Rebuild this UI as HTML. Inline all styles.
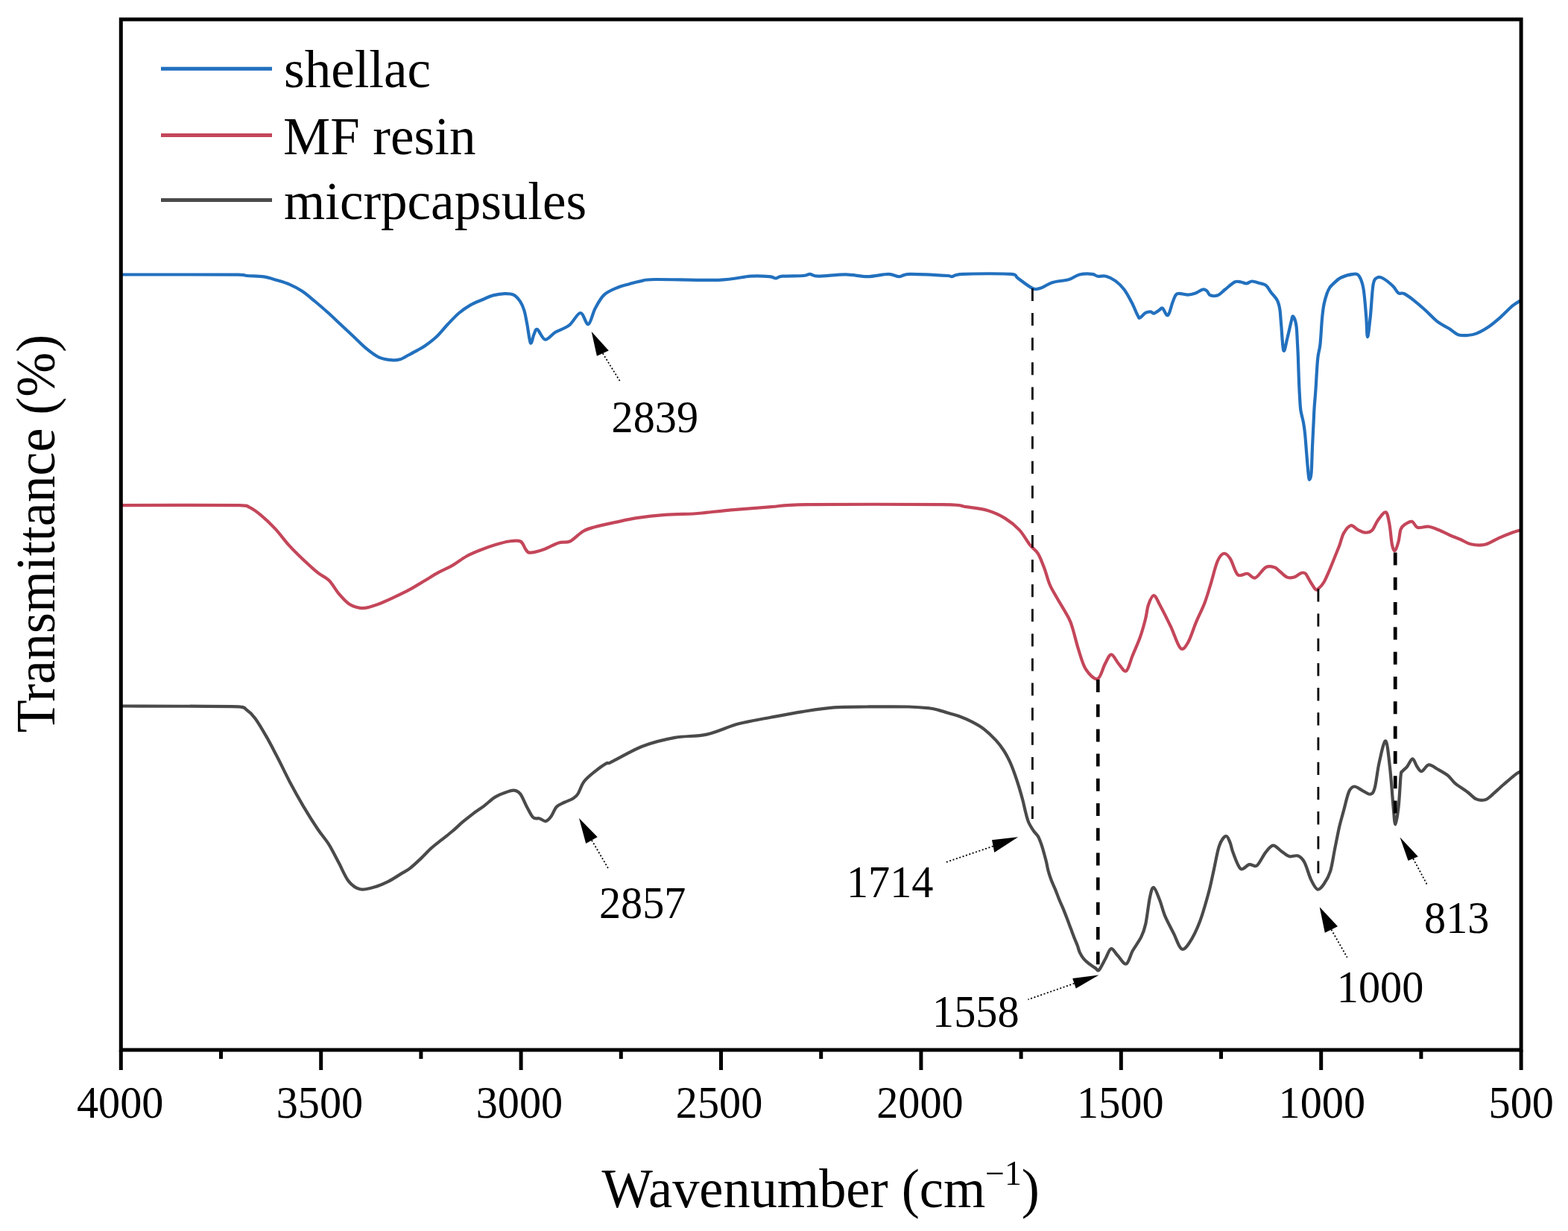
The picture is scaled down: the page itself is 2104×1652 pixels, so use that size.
<!DOCTYPE html>
<html><head><meta charset="utf-8"><title>FTIR spectra</title>
<style>
html,body{margin:0;padding:0;background:#fff;}
svg{display:block;filter:blur(0.5px);}
text{font-family:"Liberation Serif","Times New Roman",serif;fill:#000;}
</style></head>
<body>
<svg width="2104" height="1652" viewBox="0 0 2104 1652">
<rect x="0" y="0" width="2104" height="1652" fill="#fff"/>
<g fill="none" stroke-linejoin="round" stroke-linecap="round" stroke-width="4.2">
<path d="M162.0,368.5 C188.3,368.5 291.8,368.4 320.0,368.6 C331.4,368.9 325.7,369.5 331.4,370.0 C337.1,370.5 347.5,370.4 354.2,371.4 C360.9,372.4 365.6,374.3 371.3,376.0 C377.0,377.7 382.7,379.2 388.4,381.7 C394.1,384.2 399.8,387.0 405.5,390.8 C411.2,394.6 417.0,399.8 422.7,404.5 C428.4,409.2 434.1,414.2 439.8,419.3 C445.5,424.4 451.2,430.0 456.9,435.3 C462.6,440.6 468.3,446.0 474.0,451.3 C479.7,456.6 485.4,462.7 491.1,467.4 C496.8,472.1 502.5,476.7 508.2,479.3 C513.9,481.9 520.5,482.7 525.3,483.2 C530.0,483.7 532.9,483.4 536.7,482.3 C540.5,481.2 544.3,478.5 548.1,476.5 C551.9,474.5 555.8,472.5 559.5,470.4 C563.2,468.3 566.0,467.1 570.4,464.0 C574.8,460.9 580.5,456.8 585.6,452.0 C590.7,447.2 595.7,440.5 600.8,435.2 C605.9,429.9 610.9,424.3 616.0,420.0 C621.1,415.7 626.2,412.2 631.3,409.3 C636.4,406.4 641.4,404.6 646.5,402.5 C651.6,400.4 656.6,397.8 661.7,396.4 C666.8,395.0 672.4,394.2 676.9,394.1 C681.4,394.0 685.5,393.8 689.0,395.6 C692.5,397.4 695.8,401.2 698.2,404.8 C700.6,408.4 702.0,411.9 703.5,417.0 C705.0,422.1 705.9,428.0 707.3,435.2 C708.7,442.4 710.4,458.0 711.9,460.3 C713.4,462.6 714.9,451.9 716.4,448.9 C717.9,445.8 718.5,440.9 721.0,442.0 C723.5,443.1 727.6,455.1 731.6,455.7 C735.6,456.3 740.0,449.0 745.3,445.8 C750.6,442.6 758.0,441.0 763.6,436.7 C769.2,432.4 774.5,420.2 778.8,420.0 C783.1,419.8 786.1,436.2 789.4,435.2 C792.7,434.2 795.0,420.5 798.6,413.9 C802.2,407.3 805.6,400.3 810.7,395.6 C815.8,390.9 823.4,388.1 829.0,385.7 C834.6,383.3 839.1,382.6 844.2,381.2 C849.3,379.8 853.7,378.4 859.4,377.4 C865.1,376.4 861.1,375.3 878.5,375.0 C895.9,374.7 942.6,376.5 964.0,375.8 C985.4,375.1 995.4,371.5 1006.8,370.7 C1018.2,369.9 1026.8,370.7 1032.5,371.2 C1038.2,371.7 1038.2,373.6 1041.0,373.5 C1043.8,373.4 1043.4,371.3 1049.6,370.7 C1055.8,370.1 1071.8,370.5 1078.0,370.0 C1084.2,369.5 1083.4,367.7 1086.7,367.8 C1090.0,367.9 1090.0,370.6 1098.0,370.7 C1106.0,370.8 1124.0,368.3 1135.0,368.4 C1146.0,368.5 1154.2,371.3 1163.7,371.2 C1173.2,371.1 1184.9,367.8 1192.0,367.8 C1199.1,367.8 1201.6,371.2 1206.4,371.2 C1211.2,371.2 1209.8,368.0 1220.7,367.8 C1231.6,367.6 1262.5,369.4 1272.0,370.0 C1277.7,370.6 1274.4,371.6 1277.7,371.2 C1281.0,370.8 1278.7,368.4 1292.0,367.8 C1305.3,367.2 1345.3,366.9 1357.6,367.8 C1366.0,368.8 1361.3,370.3 1366.0,373.5 C1370.7,376.7 1380.8,385.1 1386.0,387.2 C1391.2,389.3 1393.2,387.6 1397.5,386.3 C1401.8,385.0 1405.5,381.1 1411.7,379.2 C1417.9,377.3 1428.4,376.8 1434.5,375.0 C1440.6,373.2 1443.3,369.7 1448.5,368.5 C1453.7,367.3 1461.5,367.4 1465.6,367.8 C1469.6,368.2 1469.7,370.2 1472.8,370.7 C1475.9,371.2 1480.2,369.6 1484.2,370.7 C1488.2,371.8 1493.0,374.1 1497.0,377.1 C1501.0,380.1 1504.8,383.8 1508.4,388.5 C1512.0,393.2 1515.3,399.7 1518.4,405.6 C1521.5,411.5 1525.1,420.7 1527.0,424.1 C1528.9,427.6 1528.1,427.0 1529.8,426.3 C1531.5,425.6 1534.6,421.2 1537.0,419.9 C1539.4,418.6 1542.1,418.3 1544.0,418.4 C1545.9,418.5 1546.5,421.0 1548.4,420.6 C1550.3,420.2 1553.6,417.5 1555.5,416.3 C1557.4,415.1 1558.1,412.4 1559.8,413.5 C1561.5,414.6 1564.0,421.6 1565.5,422.7 C1567.0,423.8 1567.6,423.0 1569.0,419.9 C1570.4,416.8 1572.2,408.5 1574.0,404.2 C1575.8,399.9 1576.4,395.6 1579.7,394.2 C1583.0,392.8 1590.0,395.7 1594.0,395.6 C1598.0,395.5 1600.7,394.7 1604.0,393.5 C1607.3,392.3 1611.4,389.0 1614.0,388.5 C1616.6,388.0 1617.9,389.3 1619.6,390.6 C1621.3,391.9 1621.6,395.4 1624.0,396.3 C1626.4,397.2 1630.7,397.6 1634.0,396.3 C1637.3,395.0 1640.1,391.5 1643.9,388.5 C1647.7,385.5 1653.1,380.2 1656.7,378.5 C1660.3,376.8 1662.7,378.2 1665.3,378.5 C1667.9,378.8 1670.0,380.7 1672.4,380.5 C1674.9,380.3 1677.1,377.6 1680.0,377.5 C1682.9,377.4 1686.9,379.1 1690.0,380.0 C1693.1,380.9 1696.0,380.9 1698.6,382.9 C1701.2,384.9 1702.9,388.8 1705.4,392.2 C1708.0,395.6 1711.9,399.4 1713.9,403.2 C1715.9,407.0 1716.4,409.5 1717.3,415.0 C1718.2,420.5 1718.3,427.1 1719.2,436.3 C1720.1,445.6 1721.0,467.7 1722.4,470.5 C1723.8,473.3 1725.8,459.6 1727.5,453.2 C1729.2,446.8 1731.2,436.8 1732.5,432.0 C1733.8,427.2 1734.0,423.7 1735.1,424.4 C1736.2,425.1 1738.3,430.1 1739.3,436.3 C1740.3,442.5 1740.6,454.4 1741.0,461.7 C1741.4,469.0 1741.6,471.5 1741.9,480.0 C1742.2,488.5 1742.6,503.6 1743.0,512.7 C1743.4,521.8 1743.7,528.1 1744.1,534.5 C1744.5,540.9 1744.6,545.4 1745.4,550.9 C1746.2,556.4 1748.0,561.8 1749.0,567.2 C1750.0,572.7 1750.5,576.3 1751.2,583.6 C1751.9,590.9 1752.7,602.2 1753.4,610.9 C1754.1,619.6 1755.0,630.6 1755.6,636.0 C1756.2,641.4 1756.5,643.8 1757.2,643.5 C1757.9,643.2 1759.0,641.2 1759.6,634.0 C1760.2,626.8 1760.5,611.1 1761.0,600.0 C1761.5,588.9 1762.1,576.3 1762.6,567.2 C1763.0,558.1 1763.2,552.7 1763.7,545.4 C1764.2,538.1 1764.9,531.7 1765.4,523.6 C1766.0,515.5 1766.5,504.6 1767.0,497.0 C1767.5,489.4 1767.8,483.9 1768.6,478.0 C1769.3,472.1 1770.6,470.1 1771.5,461.7 C1772.4,453.3 1773.2,436.8 1774.0,427.8 C1774.8,418.9 1775.5,413.6 1776.6,408.0 C1777.7,402.4 1779.3,397.6 1780.5,394.0 C1781.7,390.4 1782.7,388.6 1784.0,386.5 C1785.3,384.4 1785.6,383.9 1788.2,381.6 C1790.8,379.3 1794.7,374.8 1799.4,372.5 C1804.1,370.2 1812.2,368.1 1816.3,367.8 C1820.4,367.5 1821.6,367.3 1823.8,370.6 C1826.0,373.9 1827.9,378.4 1829.5,387.5 C1831.1,396.6 1832.3,414.2 1833.2,425.0 C1834.1,435.8 1834.1,452.2 1835.0,452.2 C1835.9,452.2 1837.5,436.7 1838.8,425.0 C1840.1,413.3 1841.0,390.6 1842.6,381.9 C1844.2,373.1 1846.0,373.9 1848.2,372.5 C1850.4,371.1 1852.2,371.6 1855.7,373.5 C1859.2,375.4 1865.5,380.5 1868.9,383.8 C1872.4,387.1 1873.9,391.5 1876.4,393.2 C1878.9,394.9 1880.6,392.5 1883.9,394.0 C1887.2,395.5 1891.5,398.6 1896.2,402.3 C1900.9,406.0 1906.9,411.1 1912.3,416.0 C1917.7,420.9 1923.1,427.2 1928.5,431.4 C1933.9,435.6 1939.9,438.1 1944.6,441.1 C1949.3,444.1 1952.8,447.7 1956.8,449.2 C1960.8,450.7 1964.9,450.3 1968.9,450.0 C1972.9,449.7 1976.3,449.5 1981.0,447.6 C1985.7,445.7 1991.8,442.3 1997.2,438.7 C2002.6,435.1 2007.9,430.5 2013.3,425.8 C2018.7,421.1 2024.9,414.2 2029.5,410.4 C2034.1,406.6 2039.1,404.2 2041.0,403.0" stroke="#2270be"/>
<path d="M162.0,678.1 C188.6,678.1 292.8,677.6 321.6,678.1 C334.9,678.6 330.1,678.7 334.9,680.9 C339.6,683.1 344.4,686.6 350.1,691.4 C355.8,696.1 362.8,702.6 369.1,709.4 C375.4,716.2 381.8,725.2 388.1,732.2 C394.4,739.2 400.8,745.3 407.1,751.3 C413.5,757.3 420.5,763.8 426.2,768.4 C431.9,773.0 436.6,774.0 441.4,778.8 C446.1,783.5 450.3,791.7 454.7,796.9 C459.1,802.1 463.2,807.0 468.0,810.2 C472.8,813.4 478.8,815.1 483.2,815.9 C487.6,816.7 489.9,816.1 494.6,815.0 C499.4,813.9 505.7,811.6 511.7,809.2 C517.7,806.8 524.4,803.7 530.7,800.7 C537.0,797.7 543.3,794.7 549.7,791.2 C556.1,787.7 562.6,783.6 569.0,779.8 C575.4,776.0 581.7,771.9 588.0,768.4 C594.3,764.9 600.7,762.5 607.0,758.9 C613.3,755.2 619.7,750.0 626.0,746.5 C632.3,743.0 638.7,740.5 645.0,738.0 C651.3,735.5 657.7,733.2 664.0,731.3 C670.3,729.4 677.3,727.3 683.0,726.5 C688.7,725.7 694.5,724.6 698.3,726.5 C702.1,728.4 703.7,735.5 705.9,738.0 C708.1,740.5 707.5,741.9 711.6,741.7 C715.7,741.5 724.3,739.2 730.6,737.0 C736.9,734.8 743.9,730.1 749.6,728.4 C755.3,726.6 759.4,729.0 764.8,726.5 C770.2,724.0 776.6,716.4 782.0,713.2 C787.4,710.0 789.7,709.5 797.0,707.5 C804.3,705.5 816.2,702.9 825.7,700.9 C835.2,698.9 843.1,696.9 854.2,695.2 C865.3,693.5 879.5,691.8 892.2,690.8 C904.9,689.8 920.7,690.0 930.2,689.5 C939.7,689.0 939.7,688.6 949.2,687.6 C958.8,686.6 973.2,685.0 987.5,683.8 C1001.8,682.6 1019.1,681.3 1035.0,680.2 C1050.8,679.1 1044.2,677.6 1082.6,677.1 C1121.0,676.6 1229.9,676.6 1265.6,677.1 C1296.5,677.6 1286.6,678.9 1296.5,680.2 C1306.4,681.5 1316.3,682.4 1325.0,685.0 C1333.7,687.6 1341.6,691.2 1348.7,695.6 C1355.8,700.0 1362.2,705.2 1367.8,711.1 C1373.3,717.0 1377.8,726.0 1382.0,731.3 C1386.2,736.6 1389.6,737.5 1392.8,742.8 C1396.0,748.0 1398.8,755.9 1401.4,762.8 C1404.0,769.7 1405.7,777.6 1408.5,784.2 C1411.3,790.9 1414.2,795.1 1418.5,802.7 C1422.8,810.3 1430.6,822.7 1434.2,829.8 C1437.8,836.9 1437.8,838.6 1439.9,845.5 C1442.0,852.4 1444.2,862.3 1447.0,871.1 C1449.8,879.9 1452.7,891.5 1457.0,898.2 C1461.3,904.9 1468.4,912.3 1472.7,911.1 C1477.0,909.9 1479.6,896.6 1482.7,891.1 C1485.8,885.6 1488.1,878.3 1491.2,878.3 C1494.3,878.3 1497.9,887.4 1501.2,891.1 C1504.5,894.8 1508.1,902.3 1511.2,900.4 C1514.3,898.5 1516.6,887.2 1519.7,879.7 C1522.8,872.2 1526.8,863.6 1529.7,855.5 C1532.6,847.4 1535.0,838.6 1536.9,831.2 C1538.8,823.8 1539.2,816.6 1541.1,811.3 C1543.0,805.9 1545.7,798.9 1548.3,799.1 C1550.9,799.3 1553.0,805.7 1556.8,812.7 C1560.6,819.7 1566.6,831.7 1571.1,841.2 C1575.6,850.7 1580.1,866.1 1583.9,869.7 C1587.7,873.3 1590.3,868.5 1593.9,862.6 C1597.5,856.7 1601.5,843.1 1605.3,834.1 C1609.1,825.1 1613.4,817.2 1616.7,808.4 C1620.0,799.6 1622.5,790.6 1625.3,781.3 C1628.1,772.0 1630.9,759.2 1633.8,752.8 C1636.7,746.4 1639.6,743.3 1642.4,742.8 C1645.2,742.3 1647.8,745.2 1650.9,750.0 C1654.0,754.8 1657.1,768.0 1660.9,771.3 C1664.7,774.6 1669.9,769.1 1673.8,769.8 C1677.7,770.5 1680.2,776.9 1684.3,775.5 C1688.4,774.1 1694.2,763.7 1698.5,761.3 C1702.8,758.9 1706.8,760.3 1710.0,761.3 C1713.2,762.2 1714.7,764.8 1717.5,767.0 C1720.3,769.2 1723.8,773.3 1727.0,774.6 C1730.2,775.9 1733.3,775.6 1736.5,774.6 C1739.7,773.6 1743.5,769.7 1746.0,768.9 C1748.5,768.1 1749.8,768.1 1751.7,769.8 C1753.6,771.5 1755.3,775.8 1757.5,779.3 C1759.7,782.8 1763.1,788.9 1765.0,790.7 C1766.9,792.5 1767.0,791.8 1768.9,790.2 C1770.8,788.6 1774.0,785.4 1776.5,781.2 C1779.0,777.0 1781.5,770.9 1784.0,765.0 C1786.5,759.1 1789.5,751.5 1791.7,746.0 C1793.9,740.5 1795.5,736.9 1797.4,731.8 C1799.3,726.7 1800.5,720.0 1803.0,715.6 C1805.5,711.2 1809.4,706.0 1812.6,705.2 C1815.8,704.4 1818.8,709.3 1822.0,710.9 C1825.2,712.5 1828.4,714.6 1831.6,714.7 C1834.8,714.9 1838.2,714.5 1841.0,711.8 C1843.8,709.1 1845.7,702.6 1848.7,698.5 C1851.8,694.4 1856.7,686.7 1859.3,687.4 C1861.9,688.1 1862.8,695.5 1864.3,702.8 C1865.8,710.1 1866.7,725.3 1868.0,731.3 C1869.3,737.3 1870.5,739.7 1871.9,738.9 C1873.3,738.1 1875.3,731.2 1876.6,726.5 C1877.9,721.8 1878.1,714.2 1879.5,710.4 C1880.9,706.6 1882.7,705.5 1885.2,703.7 C1887.7,702.0 1891.9,699.2 1894.7,699.9 C1897.5,700.6 1898.7,706.9 1902.3,708.0 C1905.9,709.1 1911.8,706.1 1916.5,706.6 C1921.2,707.1 1926.0,709.4 1930.8,711.3 C1935.5,713.2 1940.2,715.9 1945.0,718.0 C1949.8,720.1 1954.5,721.7 1959.3,723.7 C1964.1,725.8 1968.0,729.1 1973.6,730.3 C1979.1,731.5 1986.3,732.2 1992.6,730.8 C1998.9,729.4 2005.3,724.6 2011.6,721.8 C2017.9,719.0 2025.7,716.0 2030.6,714.2 C2035.5,712.5 2039.3,711.8 2041.0,711.3" stroke="#c4465a"/>
<path d="M162.0,947.5 C188.3,947.6 291.5,947.5 319.7,948.4 C331.1,949.3 327.3,950.2 331.1,952.8 C334.9,955.4 338.1,958.2 342.5,964.2 C346.9,970.2 352.6,980.0 357.7,988.9 C362.8,997.8 367.8,1007.7 372.9,1017.5 C378.0,1027.3 382.4,1037.1 388.1,1047.9 C393.8,1058.7 400.8,1071.3 407.1,1082.1 C413.5,1092.9 420.5,1104.0 426.2,1112.5 C431.9,1121.0 436.6,1125.8 441.4,1133.4 C446.1,1141.0 450.3,1149.8 454.7,1158.1 C459.1,1166.3 463.2,1177.0 468.0,1182.9 C472.8,1188.8 477.5,1192.0 483.2,1193.3 C488.9,1194.6 495.9,1192.2 502.2,1190.5 C508.5,1188.8 514.9,1186.1 521.2,1182.9 C527.5,1179.7 535.4,1174.3 540.2,1171.4 C545.0,1168.5 546.0,1168.5 550.0,1165.4 C554.0,1162.3 559.5,1157.1 564.3,1152.6 C569.0,1148.1 573.8,1142.7 578.5,1138.4 C583.2,1134.1 588.0,1130.7 592.8,1126.9 C597.5,1123.1 602.2,1119.5 607.0,1115.5 C611.8,1111.5 616.5,1106.7 621.3,1102.7 C626.1,1098.7 630.9,1094.9 635.6,1091.3 C640.4,1087.7 645.1,1084.9 649.8,1081.3 C654.5,1077.7 659.2,1072.9 664.0,1069.9 C668.8,1066.9 674.0,1065.0 678.3,1063.5 C682.6,1062.0 686.4,1060.2 689.7,1060.6 C693.0,1060.9 695.4,1061.9 698.3,1065.6 C701.2,1069.3 704.0,1077.5 706.9,1082.7 C709.8,1087.9 712.5,1094.4 715.4,1097.0 C718.2,1099.6 721.1,1097.6 724.0,1098.4 C726.9,1099.2 729.9,1102.5 732.5,1102.0 C735.1,1101.5 737.2,1098.8 739.6,1095.6 C742.0,1092.4 743.9,1085.8 746.8,1082.7 C749.7,1079.6 753.2,1078.8 756.8,1077.0 C760.4,1075.2 765.1,1073.9 768.2,1072.0 C771.3,1070.1 772.7,1069.5 775.3,1065.6 C777.9,1061.7 779.9,1053.7 783.9,1048.5 C787.9,1043.3 794.5,1038.3 799.5,1034.3 C804.5,1030.3 810.4,1026.2 813.8,1024.3 C817.2,1022.4 813.8,1026.5 820.0,1022.7 C828.2,1018.9 848.5,1006.8 862.8,1001.3 C877.0,995.8 891.2,992.5 905.5,989.9 C919.8,987.3 934.0,988.7 948.3,985.6 C962.6,982.5 976.8,975.1 991.1,971.3 C1005.4,967.5 1019.7,965.5 1033.9,962.8 C1048.2,960.1 1062.3,957.3 1076.6,955.1 C1090.8,952.9 1105.1,950.5 1119.4,949.4 C1133.7,948.3 1145.6,948.6 1162.2,948.5 C1178.8,948.4 1205.0,948.2 1219.2,948.5 C1233.5,948.8 1240.9,949.7 1247.7,950.5 C1254.5,951.3 1255.2,951.9 1260.0,953.1 C1264.8,954.4 1271.7,956.6 1276.2,958.0 C1280.7,959.4 1282.6,959.5 1287.2,961.2 C1291.8,962.9 1298.1,965.5 1303.6,968.3 C1309.0,971.1 1314.5,973.9 1319.9,978.1 C1325.4,982.3 1331.8,988.5 1336.3,993.4 C1340.8,998.3 1344.0,1002.8 1347.1,1007.5 C1350.2,1012.2 1352.4,1016.6 1354.8,1021.7 C1357.2,1026.8 1359.3,1032.5 1361.3,1038.0 C1363.3,1043.5 1364.9,1048.5 1366.8,1054.5 C1368.7,1060.5 1370.8,1068.1 1372.4,1074.0 C1374.0,1079.9 1374.9,1085.1 1376.2,1090.0 C1377.5,1094.9 1378.4,1099.3 1380.2,1103.5 C1382.0,1107.7 1384.8,1111.8 1386.9,1115.0 C1389.0,1118.2 1391.2,1119.5 1392.9,1122.4 C1394.6,1125.3 1395.8,1129.0 1397.1,1132.5 C1398.4,1136.0 1399.4,1139.6 1400.5,1143.6 C1401.6,1147.6 1402.9,1152.2 1403.9,1156.3 C1404.9,1160.4 1405.3,1163.8 1406.4,1168.0 C1407.5,1172.2 1409.1,1177.0 1410.7,1181.2 C1412.3,1185.4 1414.0,1188.8 1415.8,1193.1 C1417.6,1197.4 1419.5,1202.8 1421.3,1207.3 C1423.1,1211.8 1425.0,1215.4 1426.8,1219.9 C1428.6,1224.4 1430.6,1229.6 1432.3,1234.1 C1434.0,1238.5 1435.4,1242.4 1437.0,1246.6 C1438.6,1250.8 1440.3,1255.5 1441.8,1259.2 C1443.2,1262.9 1444.5,1265.6 1445.7,1268.7 C1446.9,1271.8 1447.4,1275.1 1448.8,1278.1 C1450.2,1281.1 1452.1,1284.2 1454.3,1286.8 C1456.5,1289.4 1459.6,1291.8 1462.2,1293.9 C1464.8,1296.0 1468.0,1298.1 1470.1,1299.4 C1472.2,1300.7 1472.6,1303.9 1474.8,1301.7 C1477.0,1299.5 1480.8,1291.0 1483.5,1286.3 C1486.2,1281.5 1488.1,1273.9 1490.8,1273.2 C1493.5,1272.5 1496.1,1278.6 1499.5,1282.0 C1502.9,1285.4 1507.7,1294.6 1511.1,1293.6 C1514.5,1292.6 1516.4,1282.2 1519.8,1276.1 C1523.2,1270.0 1528.5,1263.2 1531.4,1257.2 C1534.3,1251.2 1535.3,1248.8 1537.3,1239.8 C1539.2,1230.8 1541.3,1211.6 1543.1,1203.5 C1544.9,1195.4 1545.9,1190.4 1548.1,1191.1 C1550.3,1191.8 1553.5,1201.4 1556.1,1207.8 C1558.6,1214.2 1560.2,1222.1 1563.4,1229.6 C1566.6,1237.1 1571.4,1245.6 1575.0,1252.9 C1578.6,1260.2 1581.8,1271.0 1585.2,1273.2 C1588.6,1275.4 1591.3,1272.0 1595.4,1266.0 C1599.5,1260.0 1605.6,1248.1 1609.9,1236.9 C1614.2,1225.8 1618.3,1210.7 1621.5,1199.1 C1624.7,1187.5 1626.4,1177.8 1628.8,1167.2 C1631.2,1156.6 1633.3,1142.7 1636.0,1135.2 C1638.7,1127.7 1642.4,1122.8 1644.8,1122.1 C1647.2,1121.4 1649.0,1127.1 1650.6,1130.8 C1652.2,1134.5 1652.2,1138.2 1654.5,1144.1 C1656.8,1149.9 1661.1,1163.2 1664.7,1165.9 C1668.3,1168.6 1672.7,1160.8 1676.3,1160.1 C1679.9,1159.4 1682.9,1164.3 1686.5,1161.6 C1690.1,1158.9 1694.5,1148.6 1698.1,1144.1 C1701.7,1139.6 1704.7,1134.9 1708.3,1134.7 C1711.9,1134.5 1716.3,1140.3 1719.9,1142.7 C1723.5,1145.1 1726.4,1148.2 1730.0,1149.2 C1733.6,1150.2 1738.3,1147.2 1741.7,1148.5 C1745.1,1149.8 1747.5,1151.9 1750.4,1157.2 C1753.3,1162.5 1756.2,1174.4 1759.1,1180.4 C1762.0,1186.5 1764.9,1192.5 1767.8,1193.5 C1770.7,1194.5 1773.6,1190.3 1776.5,1186.2 C1779.4,1182.1 1782.8,1176.5 1785.2,1168.8 C1787.6,1161.1 1789.0,1149.5 1791.0,1139.8 C1793.0,1130.1 1795.0,1119.2 1796.9,1110.7 C1798.9,1102.2 1800.5,1096.9 1802.7,1088.9 C1804.9,1080.9 1807.5,1068.4 1809.9,1062.8 C1812.3,1057.2 1814.1,1055.8 1817.2,1055.5 C1820.3,1055.2 1825.2,1059.6 1828.8,1061.3 C1832.4,1063.0 1836.3,1066.4 1839.0,1065.7 C1841.7,1065.0 1842.9,1064.0 1844.8,1057.0 C1846.7,1050.0 1848.2,1034.0 1850.6,1023.6 C1853.0,1013.2 1856.9,993.3 1859.3,994.5 C1861.7,995.7 1863.4,1016.3 1865.1,1030.8 C1866.8,1045.3 1868.3,1069.1 1869.5,1081.7 C1870.7,1094.3 1871.2,1106.4 1872.4,1106.4 C1873.6,1106.4 1875.5,1092.6 1876.7,1081.7 C1877.9,1070.8 1878.8,1048.8 1879.6,1041.0 C1880.4,1033.2 1880.2,1037.2 1881.6,1035.2 C1883.0,1033.2 1885.8,1031.6 1888.1,1028.8 C1890.4,1026.0 1893.2,1018.4 1895.4,1018.3 C1897.6,1018.2 1899.0,1025.2 1901.0,1028.0 C1903.0,1030.8 1904.8,1035.5 1907.5,1035.2 C1910.2,1034.9 1913.7,1026.9 1917.2,1026.4 C1920.7,1025.9 1924.2,1029.6 1928.5,1032.0 C1932.8,1034.4 1939.0,1037.7 1943.0,1040.9 C1947.0,1044.1 1948.4,1047.8 1952.7,1051.4 C1957.0,1055.0 1964.2,1059.2 1968.9,1062.7 C1973.6,1066.2 1977.0,1070.7 1981.0,1072.4 C1985.0,1074.2 1989.7,1074.0 1993.1,1073.2 C1996.5,1072.4 1997.2,1071.0 2001.2,1067.6 C2005.2,1064.2 2012.0,1057.7 2017.4,1053.0 C2022.8,1048.3 2029.6,1042.3 2033.5,1039.3 C2037.4,1036.3 2039.8,1035.7 2041.0,1035.0" stroke="#4a4a4a"/>
</g>
<g stroke="#000" fill="none"><line x1="1385.4" y1="387" x2="1385.4" y2="1099" stroke-width="2.8" stroke-dasharray="17 16.1"/><line x1="1473.3" y1="912" x2="1473.3" y2="1296" stroke-width="4.6" stroke-dasharray="17 16.2"/><line x1="1768.9" y1="790.3" x2="1768.9" y2="1172" stroke-width="2.8" stroke-dasharray="17.3 15.9"/><line x1="1872.2" y1="741.5" x2="1872.2" y2="1106" stroke-width="4.8" stroke-dasharray="17 16.3"/></g>
<polygon points="793.7,444.9 800.9,477.8 816.8,470.6" fill="#000"/><line x1="808.8" y1="474.2" x2="831.7" y2="511.3" stroke="#000" stroke-width="1.8" stroke-dasharray="2 2.6"/><polygon points="777.0,1098.0 786.2,1132.0 801.7,1123.2" fill="#000"/><line x1="794.0" y1="1127.6" x2="816.1" y2="1165.4" stroke="#000" stroke-width="1.8" stroke-dasharray="2 2.6"/><polygon points="1366.2,1123.3 1331.0,1127.3 1334.3,1143.9" fill="#000"/><line x1="1332.7" y1="1135.6" x2="1269.0" y2="1157.2" stroke="#000" stroke-width="1.8" stroke-dasharray="2 2.6"/><polygon points="1474.5,1308.6 1439.2,1313.1 1443.7,1326.6" fill="#000"/><line x1="1441.5" y1="1319.8" x2="1379.5" y2="1341.3" stroke="#000" stroke-width="1.8" stroke-dasharray="2 2.6"/><polygon points="1770.7,1217.2 1777.8,1251.8 1795.0,1243.2" fill="#000"/><line x1="1786.4" y1="1247.5" x2="1807.7" y2="1284.9" stroke="#000" stroke-width="1.8" stroke-dasharray="2 2.6"/><polygon points="1878.5,1123.6 1889.5,1155.0 1902.8,1149.6" fill="#000"/><line x1="1896.2" y1="1152.3" x2="1915.4" y2="1188.1" stroke="#000" stroke-width="1.8" stroke-dasharray="2 2.6"/>
<g stroke="#000" stroke-width="5" fill="none">
<rect x="162.3" y="26" width="1878.8" height="1383"/>
<line x1="162.3" y1="1409" x2="162.3" y2="1436"/><line x1="430.7" y1="1409" x2="430.7" y2="1436"/><line x1="699.1" y1="1409" x2="699.1" y2="1436"/><line x1="967.5" y1="1409" x2="967.5" y2="1436"/><line x1="1235.9" y1="1409" x2="1235.9" y2="1436"/><line x1="1504.3" y1="1409" x2="1504.3" y2="1436"/><line x1="1772.7" y1="1409" x2="1772.7" y2="1436"/><line x1="2041.1" y1="1409" x2="2041.1" y2="1436"/><line x1="296.5" y1="1409" x2="296.5" y2="1421"/><line x1="564.9" y1="1409" x2="564.9" y2="1421"/><line x1="833.3" y1="1409" x2="833.3" y2="1421"/><line x1="1101.7" y1="1409" x2="1101.7" y2="1421"/><line x1="1370.1" y1="1409" x2="1370.1" y2="1421"/><line x1="1638.5" y1="1409" x2="1638.5" y2="1421"/><line x1="1906.9" y1="1409" x2="1906.9" y2="1421"/>
</g>
<g font-size="62" ><text x="161.2" y="1500" text-anchor="middle" textLength="116.5" lengthAdjust="spacingAndGlyphs">4000</text><text x="428.9" y="1500" text-anchor="middle" textLength="116.5" lengthAdjust="spacingAndGlyphs">3500</text><text x="696.9" y="1500" text-anchor="middle" textLength="116.5" lengthAdjust="spacingAndGlyphs">3000</text><text x="965.1" y="1500" text-anchor="middle" textLength="116.5" lengthAdjust="spacingAndGlyphs">2500</text><text x="1234.4" y="1500" text-anchor="middle" textLength="116.5" lengthAdjust="spacingAndGlyphs">2000</text><text x="1503.3" y="1500" text-anchor="middle" textLength="116.5" lengthAdjust="spacingAndGlyphs">1500</text><text x="1773.8" y="1500" text-anchor="middle" textLength="116.5" lengthAdjust="spacingAndGlyphs">1000</text><text x="2041.3" y="1500" text-anchor="middle" textLength="87.4" lengthAdjust="spacingAndGlyphs">500</text></g>
<g stroke-width="5" stroke-linecap="butt">
<line x1="216" y1="92.3" x2="365" y2="92.3" stroke="#2270be"/>
<line x1="216" y1="181.4" x2="365" y2="181.4" stroke="#c4465a"/>
<line x1="216" y1="268.6" x2="365" y2="268.6" stroke="#4a4a4a"/>
</g>
<g font-size="71">
<text x="381" y="117.4">shellac</text>
<text x="380" y="207">MF resin</text>
<text x="381" y="294.3">micrpcapsules</text>
</g>
<g font-size="62" text-anchor="middle" lengthAdjust="spacingAndGlyphs">
<text x="878.8" y="580.2" textLength="116.5" lengthAdjust="spacingAndGlyphs">2839</text>
<text x="862.2" y="1231.7" textLength="116.5" lengthAdjust="spacingAndGlyphs">2857</text>
<text x="1194.2" y="1203.8" textLength="116.5" lengthAdjust="spacingAndGlyphs">1714</text>
<text x="1309.3" y="1377.9" textLength="116.5" lengthAdjust="spacingAndGlyphs">1558</text>
<text x="1852.1" y="1344.7" textLength="116.5" lengthAdjust="spacingAndGlyphs">1000</text>
<text x="1954.8" y="1251.8" textLength="87.4" lengthAdjust="spacingAndGlyphs">813</text>
</g>
<text font-size="73" transform="translate(807.5,1620.4) scale(0.9917,1)" x="0" y="0">Wavenumber (cm<tspan font-size="46" dy="-30">&#8722;1</tspan><tspan dy="30">)</tspan></text>
<text font-size="73" transform="translate(72.7,983.2) rotate(-90) scale(0.9847,1)">Transmittance (%)</text>
</svg>
</body></html>
